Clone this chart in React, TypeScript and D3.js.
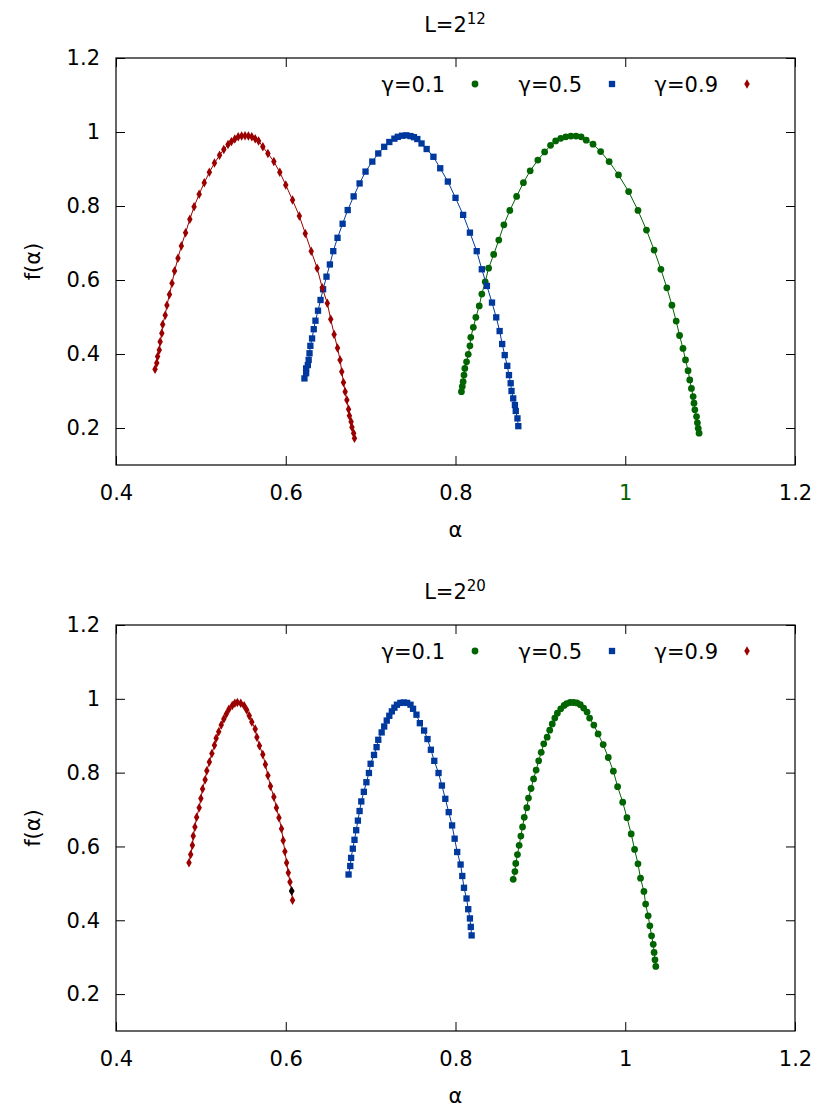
import React, { useRef, useEffect } from "react";
import * as d3 from "d3";

// f(alpha) spectra as [alpha, f] pairs
const l12g01: [number, number][] = [
  [0.807, 0.298], [0.808, 0.312], [0.809, 0.325], [0.81, 0.343], [0.811, 0.361], [0.813, 0.379],
  [0.815, 0.399], [0.817, 0.422], [0.818, 0.445], [0.821, 0.472], [0.824, 0.499], [0.828, 0.53],
  [0.831, 0.562], [0.835, 0.595], [0.839, 0.632], [0.845, 0.669], [0.851, 0.708], [0.857, 0.749],
  [0.864, 0.788], [0.872, 0.826], [0.88, 0.863], [0.888, 0.895], [0.897, 0.924], [0.905, 0.946],
  [0.912, 0.964], [0.918, 0.976], [0.924, 0.983], [0.93, 0.987], [0.936, 0.989], [0.942, 0.989],
  [0.948, 0.987], [0.954, 0.978], [0.962, 0.967], [0.971, 0.947], [0.981, 0.92], [0.992, 0.884],
  [1.004, 0.839], [1.015, 0.788], [1.025, 0.735], [1.034, 0.681], [1.042, 0.629], [1.049, 0.579],
  [1.055, 0.532], [1.06, 0.489], [1.064, 0.45], [1.068, 0.415], [1.071, 0.384], [1.074, 0.355],
  [1.076, 0.33], [1.078, 0.307], [1.08, 0.285], [1.081, 0.267], [1.082, 0.249], [1.084, 0.231],
  [1.085, 0.214], [1.086, 0.199], [1.087, 0.186],
];
const l12g05: [number, number][] = [
  [0.622, 0.334], [0.624, 0.348], [0.624, 0.361], [0.626, 0.37], [0.627, 0.384], [0.628, 0.402],
  [0.629, 0.422], [0.631, 0.442], [0.633, 0.467], [0.635, 0.49], [0.638, 0.517], [0.641, 0.546],
  [0.644, 0.575], [0.648, 0.609], [0.652, 0.642], [0.656, 0.678], [0.661, 0.714], [0.667, 0.752],
  [0.673, 0.789], [0.68, 0.826], [0.687, 0.861], [0.694, 0.893], [0.702, 0.92], [0.709, 0.942],
  [0.716, 0.96], [0.722, 0.973], [0.728, 0.982], [0.732, 0.987], [0.737, 0.99], [0.742, 0.991],
  [0.747, 0.989], [0.751, 0.986], [0.755, 0.981], [0.76, 0.969], [0.766, 0.954], [0.774, 0.933],
  [0.782, 0.902], [0.791, 0.866], [0.8, 0.822], [0.809, 0.776], [0.817, 0.728], [0.825, 0.678],
  [0.831, 0.629], [0.837, 0.584], [0.843, 0.539], [0.848, 0.499], [0.852, 0.462], [0.855, 0.427],
  [0.858, 0.397], [0.861, 0.368], [0.863, 0.343], [0.865, 0.321], [0.866, 0.3], [0.868, 0.28],
  [0.87, 0.262], [0.871, 0.246], [0.873, 0.226], [0.874, 0.205],
];
const l12g09: [number, number][] = [
  [0.446, 0.359], [0.448, 0.376], [0.449, 0.393], [0.451, 0.411], [0.452, 0.433], [0.454, 0.456],
  [0.455, 0.48], [0.458, 0.505], [0.46, 0.532], [0.463, 0.561], [0.466, 0.591], [0.469, 0.624],
  [0.473, 0.659], [0.477, 0.692], [0.482, 0.728], [0.487, 0.764], [0.492, 0.798], [0.498, 0.832],
  [0.504, 0.863], [0.51, 0.891], [0.516, 0.916], [0.522, 0.937], [0.527, 0.953], [0.532, 0.966],
  [0.536, 0.974], [0.54, 0.981], [0.544, 0.987], [0.548, 0.989], [0.552, 0.99], [0.556, 0.989],
  [0.56, 0.987], [0.564, 0.982], [0.568, 0.976], [0.573, 0.96], [0.579, 0.942], [0.586, 0.92],
  [0.593, 0.891], [0.6, 0.857], [0.608, 0.816], [0.616, 0.773], [0.623, 0.726], [0.63, 0.678],
  [0.637, 0.632], [0.643, 0.579], [0.649, 0.537], [0.653, 0.494], [0.657, 0.453], [0.661, 0.416],
  [0.664, 0.384], [0.666, 0.352], [0.668, 0.323], [0.67, 0.298], [0.672, 0.276], [0.674, 0.251],
  [0.675, 0.233], [0.677, 0.217], [0.678, 0.202], [0.68, 0.186], [0.681, 0.172],
];

const l20g01: [number, number][] = [
  [0.868, 0.511], [0.87, 0.532], [0.871, 0.554], [0.873, 0.578], [0.875, 0.603], [0.877, 0.628],
  [0.879, 0.653], [0.881, 0.679], [0.884, 0.705], [0.886, 0.731], [0.889, 0.757], [0.892, 0.783],
  [0.895, 0.807], [0.898, 0.832], [0.901, 0.855], [0.904, 0.878], [0.908, 0.896], [0.911, 0.915],
  [0.914, 0.932], [0.917, 0.948], [0.92, 0.961], [0.924, 0.973], [0.928, 0.982], [0.931, 0.987],
  [0.935, 0.99], [0.939, 0.99], [0.943, 0.989], [0.947, 0.984], [0.951, 0.975], [0.955, 0.964],
  [0.958, 0.948], [0.963, 0.929], [0.968, 0.905], [0.974, 0.876], [0.98, 0.841], [0.986, 0.804],
  [0.991, 0.762], [0.997, 0.72], [1.002, 0.678], [1.007, 0.634], [1.011, 0.592], [1.015, 0.553],
  [1.018, 0.514], [1.022, 0.478], [1.024, 0.444], [1.027, 0.412], [1.029, 0.385], [1.031, 0.358],
  [1.033, 0.335], [1.034, 0.313], [1.035, 0.293], [1.036, 0.275],
];
const l20g05: [number, number][] = [
  [0.674, 0.524], [0.676, 0.547], [0.677, 0.569], [0.679, 0.594], [0.681, 0.618], [0.683, 0.644],
  [0.685, 0.67], [0.687, 0.696], [0.689, 0.722], [0.692, 0.748], [0.695, 0.774], [0.698, 0.799],
  [0.7, 0.824], [0.704, 0.848], [0.707, 0.869], [0.709, 0.889], [0.713, 0.909], [0.716, 0.925],
  [0.719, 0.941], [0.722, 0.954], [0.725, 0.966], [0.728, 0.976], [0.731, 0.984], [0.735, 0.989],
  [0.739, 0.99], [0.743, 0.989], [0.747, 0.984], [0.75, 0.973], [0.754, 0.957], [0.758, 0.934],
  [0.763, 0.914], [0.767, 0.891], [0.771, 0.862], [0.775, 0.832], [0.78, 0.799], [0.784, 0.765],
  [0.788, 0.729], [0.792, 0.693], [0.796, 0.657], [0.799, 0.621], [0.802, 0.585], [0.806, 0.551],
  [0.808, 0.52], [0.81, 0.488], [0.813, 0.459], [0.815, 0.43], [0.817, 0.405], [0.818, 0.382],
  [0.819, 0.359],
];
const l20g09: [number, number][] = [
  [0.486, 0.556], [0.488, 0.578], [0.49, 0.603], [0.491, 0.628], [0.493, 0.653], [0.495, 0.679],
  [0.498, 0.705], [0.5, 0.73], [0.502, 0.756], [0.505, 0.781], [0.507, 0.805], [0.51, 0.829],
  [0.513, 0.852], [0.516, 0.874], [0.518, 0.893], [0.521, 0.911], [0.524, 0.929], [0.527, 0.945],
  [0.53, 0.959], [0.533, 0.972], [0.537, 0.982], [0.54, 0.988], [0.543, 0.99], [0.547, 0.988],
  [0.551, 0.981], [0.554, 0.97], [0.557, 0.954], [0.56, 0.937], [0.564, 0.918], [0.566, 0.896],
  [0.569, 0.873], [0.573, 0.849], [0.576, 0.822], [0.579, 0.792], [0.582, 0.763], [0.586, 0.734],
  [0.589, 0.705], [0.592, 0.678], [0.595, 0.648], [0.597, 0.616], [0.599, 0.586], [0.601, 0.556],
  [0.603, 0.529], [0.605, 0.504], [0.607, 0.479], [0.608, 0.454],
];
// stray black point on the L=2^20, gamma=0.9 curve
const l20Extra: [number, number][] = [[0.607, 0.479]];

const gammaLabels = ["γ=0.1", "γ=0.5", "γ=0.9"];
const xTicks = [0.4, 0.6, 0.8, 1, 1.2];
const yTicks = [0.2, 0.4, 0.6, 0.8, 1, 1.2];

const colors = ["#006400", "#00399e", "#9a0000"];
const FONT = "DejaVu Sans, sans-serif";

const App = () => {
  const ref = useRef<SVGSVGElement>(null);

  useEffect(() => {
    document.body.style.margin = "0";
    const svg = d3.select(ref.current);
    svg.selectAll("*").remove();

    const symbols = [
      d3.symbol().type(d3.symbolCircle).size(36),
      d3.symbol().type(d3.symbolSquare).size(40),
      d3.symbol().type(d3.symbolDiamond).size(26),
    ];

    const drawPanel = (
      top: number,
      bottom: number,
      exp: string,
      series: [number, number][][],
      extra: [number, number][],
      greenOne: boolean
    ) => {
      const left = 116;
      const right = 795;
      const x = d3.scaleLinear().domain([0.4, 1.2]).range([left, right]);
      const y = d3.scaleLinear().domain([0.1, 1.2]).range([bottom, top]);
      const g = svg.append("g");

      // axes, ticks pointing inwards on all four sides
      const fmt = (d: any) => String(d);
      const styleAxis = (sel: any) => {
        sel.select(".domain").remove();
        sel.selectAll("line").attr("stroke", "#000").attr("stroke-width", 1);
        sel.attr("font-family", FONT).attr("font-size", 21);
        sel.selectAll("text").attr("fill", "#000");
      };
      const xAxisG = g.append("g").attr("transform", `translate(0,${bottom})`)
        .call(d3.axisBottom(x).tickValues(xTicks).tickFormat(fmt).tickSize(-9).tickPadding(20))
        .call(styleAxis);
      g.append("g").attr("transform", `translate(0,${top})`)
        .call(d3.axisTop(x).tickValues(xTicks).tickFormat(() => "").tickSize(-9))
        .call(styleAxis);
      g.append("g").attr("transform", `translate(${left},0)`)
        .call(d3.axisLeft(y).tickValues(yTicks).tickFormat(fmt).tickSize(-9).tickPadding(16))
        .call(styleAxis);
      g.append("g").attr("transform", `translate(${right},0)`)
        .call(d3.axisRight(y).tickValues(yTicks).tickFormat(() => "").tickSize(-9))
        .call(styleAxis);

      // the "1" label of the upper x axis is green in the original
      if (greenOne) {
        xAxisG.selectAll("g.tick text").filter((d: any) => d === 1).attr("fill", colors[0]);
      }

      g.append("rect")
        .attr("x", left).attr("y", top)
        .attr("width", right - left).attr("height", bottom - top)
        .attr("fill", "none").attr("stroke", "#000").attr("stroke-width", 1.2);

      // title
      const t = g.append("text")
        .attr("x", 455).attr("y", top - 26)
        .attr("text-anchor", "middle")
        .attr("font-family", FONT).attr("font-size", 21);
      t.append("tspan").text("L=2");
      t.append("tspan").attr("dy", -8).attr("font-size", 15).text(exp);

      // axis labels
      g.append("text")
        .attr("x", (left + right) / 2).attr("y", bottom + 72)
        .attr("text-anchor", "middle")
        .attr("font-family", FONT).attr("font-size", 21)
        .text("α");
      g.append("text")
        .attr("transform", `translate(40,${(top + bottom) / 2}) rotate(-90)`)
        .attr("text-anchor", "middle")
        .attr("font-family", FONT).attr("font-size", 21)
        .text("f(α)");

      const line = d3.line<[number, number]>().x((d) => x(d[0])).y((d) => y(d[1]));

      series.forEach((s, i) => {
        g.append("path")
          .datum(s)
          .attr("d", line)
          .attr("fill", "none")
          .attr("stroke", colors[i])
          .attr("stroke-width", 1);
        g.selectAll(null)
          .data(s)
          .enter()
          .append("path")
          .attr("d", symbols[i]() as string)
          .attr("transform", (d) => `translate(${x(d[0])},${y(d[1])})`)
          .attr("fill", colors[i]);
      });

      g.selectAll(null)
        .data(extra)
        .enter()
        .append("path")
        .attr("d", symbols[2]() as string)
        .attr("transform", (d) => `translate(${x(d[0])},${y(d[1])})`)
        .attr("fill", "#000");

      // legend (points only, like gnuplot)
      const legendText = [445, 582, 718];
      const legendMark = [475, 612, 747];
      gammaLabels.forEach((lab, i) => {
        g.append("text")
          .attr("x", legendText[i]).attr("y", top + 34)
          .attr("text-anchor", "end")
          .attr("font-family", FONT).attr("font-size", 21)
          .text(lab);
        g.append("path")
          .attr("d", symbols[i]() as string)
          .attr("transform", `translate(${legendMark[i]},${top + 26})`)
          .attr("fill", colors[i]);
      });
    };

    drawPanel(58, 465, "12", [l12g01, l12g05, l12g09], [], true);
    drawPanel(625, 1031, "20", [l20g01, l20g05, l20g09], l20Extra, false);
  }, []);

  return <svg ref={ref} width={817} height={1108} style={{ display: "block", background: "#fff" }} />;
};

export default App;
